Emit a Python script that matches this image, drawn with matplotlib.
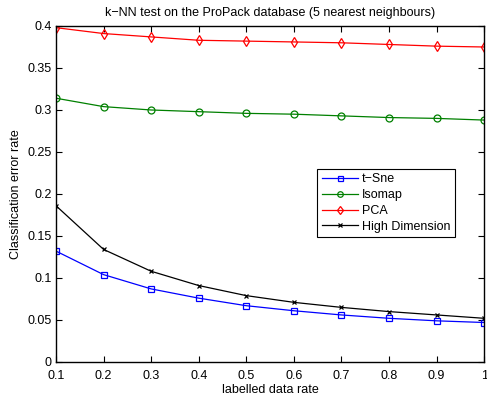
import numpy as np
import matplotlib
matplotlib.use("Agg")
import matplotlib.pyplot as plt

plt.rcParams['font.family'] = ['Liberation Sans', 'DejaVu Sans']

rate = [0.1, 0.2, 0.3, 0.4, 0.5, 0.6, 0.7, 0.8, 0.9, 1.0]
tsne = [0.132, 0.104, 0.087, 0.076, 0.067, 0.061, 0.056, 0.052, 0.049, 0.047]
isomap = [0.314, 0.304, 0.300, 0.298, 0.296, 0.295, 0.293, 0.291, 0.290, 0.288]
pca = [0.398, 0.391, 0.387, 0.383, 0.382, 0.381, 0.380, 0.378, 0.376, 0.375]
highdim = [0.186, 0.134, 0.108, 0.091, 0.079, 0.071, 0.065, 0.060, 0.056, 0.052]

fig = plt.figure(figsize=(4.87, 3.98), dpi=100)
ax = fig.add_axes([0.115, 0.0905, 0.879, 0.8442])

ax.plot(rate, tsne, '-s', color='#0000ff', lw=0.9, ms=4.5, mfc='none', mew=0.9, label='t\u2212Sne')
ax.plot(rate, isomap, '-o', color='#008000', lw=0.9, ms=5, mfc='none', mew=0.9, label='Isomap')
ax.plot(rate, pca, '-d', color='#ff0000', lw=0.9, ms=5.5, mfc='none', mew=0.9, label='PCA')
ax.plot(rate, highdim, '-x', color='black', lw=0.9, ms=3.5, mew=0.9, label='High Dimension')

ax.set_xlim(0.1, 1)
ax.set_ylim(0, 0.4)
ax.set_xticks(rate)
ax.set_xticklabels(['0.1', '0.2', '0.3', '0.4', '0.5', '0.6', '0.7', '0.8', '0.9', '1'])
ax.set_yticks([0, 0.05, 0.1, 0.15, 0.2, 0.25, 0.3, 0.35, 0.4])
ax.set_yticklabels(['0', '0.05', '0.1', '0.15', '0.2', '0.25', '0.3', '0.35', '0.4'])
ax.tick_params(direction='in', top=True, right=True, labelsize=9, length=4, width=0.8)
ax.tick_params(axis='x', pad=6)
ax.tick_params(axis='y', pad=3)
for s in ax.spines.values():
    s.set_linewidth(1.0)

ax.set_xlabel('labelled data rate', fontsize=9, labelpad=1)
ax.set_ylabel('Classification error rate', fontsize=9, labelpad=4)
ax.set_title('k\u2212NN test on the ProPack database (5 nearest neighbours)', fontsize=9, pad=7)

leg = ax.legend(loc='upper left', bbox_to_anchor=(0.61, 0.574), fontsize=9,
                fancybox=False, framealpha=1, edgecolor='black', handlelength=2.9,
                borderpad=0.35, labelspacing=0.3, handletextpad=0.35, borderaxespad=0,
                markerscale=0.8)
leg.get_frame().set_linewidth(0.8)

fig.savefig('out.png', dpi=100)
